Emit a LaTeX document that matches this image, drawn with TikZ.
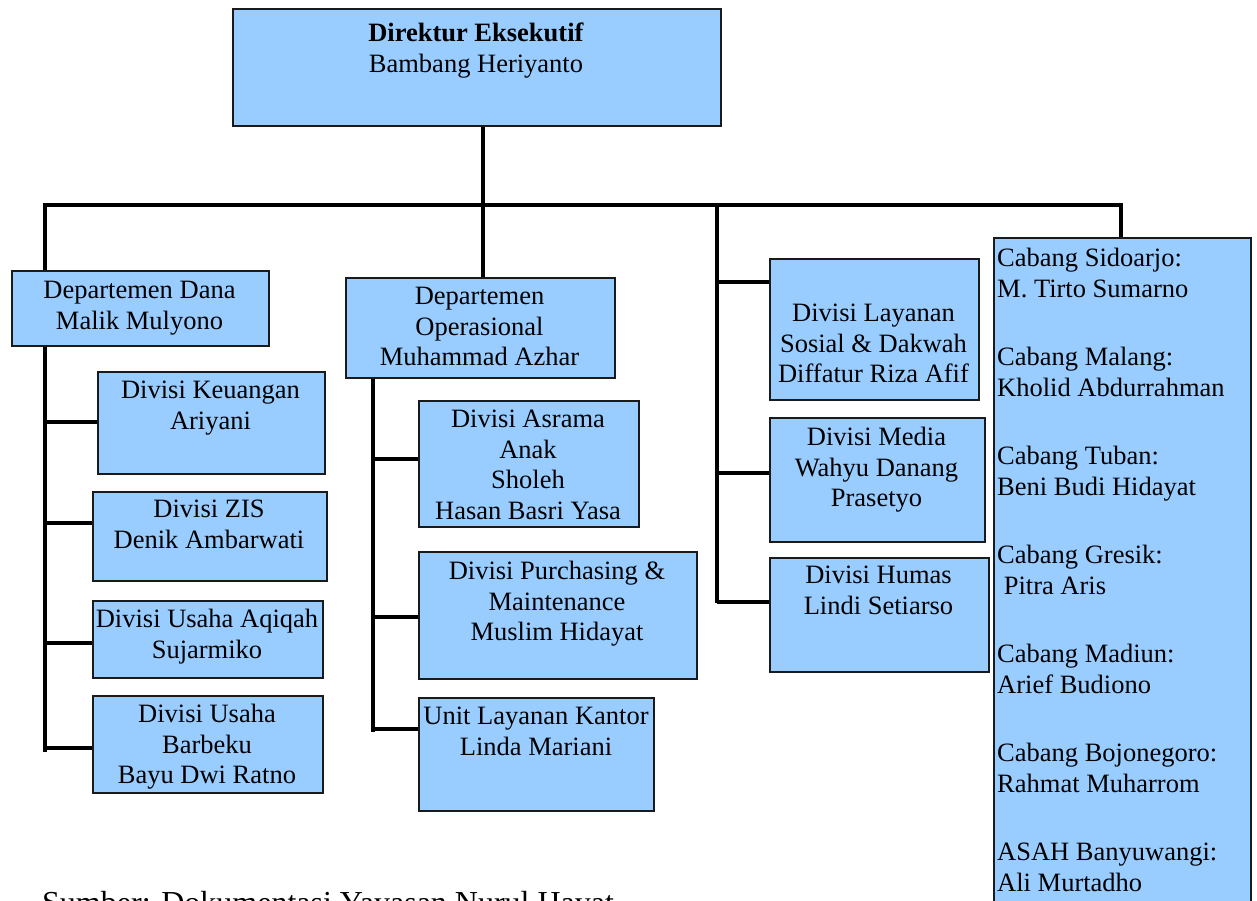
\documentclass[tikz,border=0pt]{standalone}
\usepackage{fontspec}
\setmainfont{Liberation Serif}
\definecolor{boxfill}{HTML}{99CCFF}
\definecolor{boxline}{HTML}{1A1A1A}
\tikzset{
  box/.style={draw=boxline, line width=2pt, fill=boxfill, rectangle, inner sep=0pt, anchor=north west},
  txt/.style={inner sep=0pt, align=center, anchor=north, font=\fontsize{26.5}{30.5}\selectfont},
  ltxt/.style={inner sep=0pt, align=left, anchor=north west, font=\fontsize{26.5}{30.5}\selectfont},
  conn/.style={draw=black, line width=3.3pt}
}
\newcommand{\obox}[5]{\node[box, minimum width={#4-#2}, minimum height={#5-#3}] (#1) at (#2,#3) {};}
\begin{document}
\begin{tikzpicture}[x=1pt,y=-1pt]
\useasboundingbox (0,0) rectangle (1257,901);
\clip (0,0) rectangle (1257,901);
\fill[white] (0,0) rectangle (1257,901);
% boxes
\obox{dir}{232}{8}{720}{125}
\obox{dana}{11}{270}{268}{345}
\obox{ke}{97}{371}{324}{473}
\obox{zis}{92}{491}{326}{580}
\obox{aqi}{92}{600}{322}{677}
\obox{bar}{92}{695}{322}{792}
\obox{ops}{345}{277}{614}{377}
\obox{asr}{418}{400}{638}{526}
\obox{pur}{418}{551}{696}{678}
\obox{ulk}{418}{697}{653}{810}
\obox{sos}{769}{258}{978}{399}
\obox{med}{769}{417}{984}{541}
\obox{hum}{769}{557}{988}{671}
\obox{cab}{993}{237}{1250}{960}
% texts
\node[txt] (dirT) at (476,23) {\textbf{Direktur Eksekutif}\\Bambang Heriyanto};
\node[txt] (danaT) at (139.5,281) {Departemen Dana\\Malik Mulyono};
\node[txt] (keT) at (210.5,381) {Divisi Keuangan\\Ariyani};
\node[txt] (zisT) at (209,500) {Divisi ZIS\\Denik Ambarwati};
\node[txt] (aqiT) at (207,609) {Divisi Usaha Aqiqah\\Sujarmiko};
\node[txt] (barT) at (207,704) {Divisi Usaha\\Barbeku\\Bayu Dwi Ratno};
\node[txt] (opsT) at (479.5,287) {Departemen\\Operasional\\Muhammad Azhar};
\node[txt] (asrT) at (528,410) {Divisi Asrama\\Anak\\Sholeh\\Hasan Basri Yasa};
\node[txt] (purT) at (557,561) {Divisi Purchasing \&\\Maintenance\\Muslim Hidayat};
\node[txt] (ulkT) at (536,707) {Unit Layanan Kantor\\Linda Mariani};
\node[txt] (sosT) at (873.5,304) {Divisi Layanan\\Sosial \& Dakwah\\Diffatur Riza Afif};
\node[txt] (medT) at (876.5,427) {Divisi Media\\Wahyu Danang\\Prasetyo};
\node[txt] (humT) at (878.5,566) {Divisi Humas\\Lindi Setiarso};
\node[ltxt] (cabT) at (997,248) {Cabang Sidoarjo:\\M. Tirto Sumarno\\[38pt]Cabang Malang:\\Kholid Abdurrahman\\[38pt]Cabang Tuban:\\Beni Budi Hidayat\\[38pt]Cabang Gresik:\\\hspace*{6.6pt}Pitra Aris\\[38pt]Cabang Madiun:\\Arief Budiono\\[38pt]Cabang Bojonegoro:\\Rahmat Muharrom\\[38pt]ASAH Banyuwangi:\\Ali Murtadho};
\node[inner sep=0pt, anchor=base west, font=\fontsize{32}{36}\selectfont] (src) at (42,913) {Sumber: Dokumentasi Yayasan Nurul Hayat};
% connector coordinates
\coordinate (jTop) at (483,205);
\coordinate (busL) at (45,205);
\coordinate (busR) at (1121,205);
\coordinate (rTop) at (717,205);
\coordinate (rBot) at (717,603);
\coordinate (dBot) at (45,752);
\coordinate (oBot) at (373,732);
\coordinate (b1) at (45,422);
\coordinate (b2) at (47,523);
\coordinate (b3) at (47,643);
\coordinate (b4) at (47,748);
\coordinate (o1) at (373,459);
\coordinate (o2) at (373,617);
\coordinate (o3) at (373,729);
\coordinate (r1) at (717,282);
\coordinate (r2) at (717,473);
\coordinate (r3) at (717,602);
% connectors
\draw[conn] (dir.south -| jTop) -- (jTop);
\draw[conn, line cap=rect] (busL) -- (busR);
\draw[conn] (busL) -- (busL |- dana.north);
\draw[conn] (jTop) -- (jTop |- ops.north);
\draw[conn] (rTop) -- (rBot);
\draw[conn] (busR) -- (busR |- cab.north);
\draw[conn] (dana.south -| busL) -- (dBot);
\draw[conn] (b1) -- (b1 -| ke.west);
\draw[conn] (b2) -- (b2 -| zis.west);
\draw[conn] (b3) -- (b3 -| aqi.west);
\draw[conn] (b4) -- (b4 -| bar.west);
\draw[conn] (ops.south -| oBot) -- (oBot);
\draw[conn] (o1) -- (o1 -| asr.west);
\draw[conn] (o2) -- (o2 -| pur.west);
\draw[conn] (o3) -- (o3 -| ulk.west);
\draw[conn] (r1) -- (r1 -| sos.west);
\draw[conn] (r2) -- (r2 -| med.west);
\draw[conn] (r3) -- (r3 -| hum.west);
\end{tikzpicture}
\end{document}
